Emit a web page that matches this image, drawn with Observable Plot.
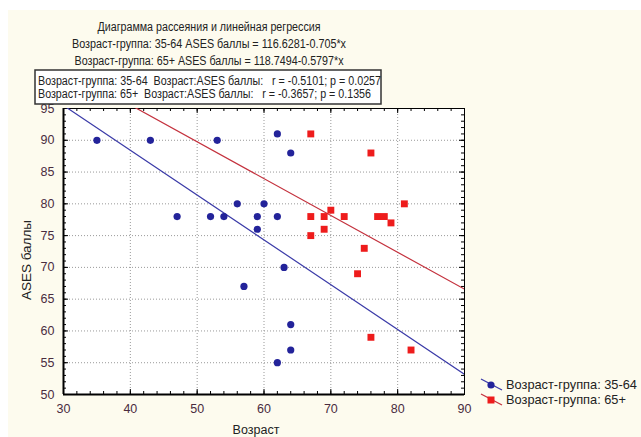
<!DOCTYPE html>
<html><head><meta charset="utf-8">
<script src="https://cdn.jsdelivr.net/npm/d3@7"></script>
<script src="https://cdn.jsdelivr.net/npm/@observablehq/plot@0.6"></script>
<style>
body{margin:0;background:#fff;}
#chart svg text{font-family:"Liberation Sans",Arial,sans-serif;}
</style>
</head><body><div id="chart"></div>
<script>
// ---- data ----
const ageYoung  = [35,43,53,47,52,54,56,62,64,60,59,62,59,57,63,64,64,62];
const asesYoung = [90,90,90,78,78,78,80,91,88,80,78,78,76,67,70,61,57,55];
const ageOld    = [67,76,81,67,69,70,72,77,78,79,69,67,75,74,76,82];
const asesOld   = [91,88,80,78,78,79,78,78,78,77,76,75,73,69,59,57];
const coefYoung = [116.6281, -0.705];
const coefOld   = [118.7494, -0.5797];
const xTicks = [30,40,50,60,70,80,90];
const yTicks = [50,55,60,65,70,75,80,85,90,95];
const titleLines = [
  "Диаграмма рассеяния и линейная регрессия",
  "Возраст-группа: 35-64 ASES баллы = 116.6281-0.705*x",
  "Возраст-группа: 65+ ASES баллы = 118.7494-0.5797*x"
];
const statLines = [
  "Возраст-группа: 35-64  Возраст:ASES баллы:   r = -0.5101; p = 0.0257",
  "Возраст-группа: 65+  Возраст:ASES баллы:   r = -0.3657; p = 0.1356"
];
const legendLabels = ["Возраст-группа: 35-64", "Возраст-группа: 65+"];
const xLabel = "Возраст";
const yLabel = "ASES баллы";

const blue = "#23239a", red = "#ee1c1c", blueLine = "#3b3ba8", redLine = "#c4323e";

const young = ageYoung.map((x,i)=>({x, y: asesYoung[i]}));
const old = ageOld.map((x,i)=>({x, y: asesOld[i]}));
const xd = [30,90];
const lineYoung = xd.map(x=>({x, y: coefYoung[0] + coefYoung[1]*x}));
const lineOld = xd.map(x=>({x, y: coefOld[0] + coefOld[1]*x}));
const xMinor = d3.range(30, 91, 2);
const yMinor = d3.range(50, 96, 1);

const W = 641, H = 437, mL = 63, mR = 177, mT = 108, mB = 43;
const pw = W - mL - mR, ph = H - mT - mB;

const chart = Plot.plot({
  width: W, height: H,
  marginLeft: mL, marginRight: mR, marginTop: mT, marginBottom: mB,
  style: {background: "transparent", overflow: "visible"},
  x: {domain: [30,90]},
  y: {domain: [50,95]},
  marks: [
    Plot.frame({fill: "white", stroke: "none"}),
    Plot.gridX(xTicks.slice(1,-1), {stroke: "#999", strokeOpacity: 1, strokeDasharray: "1,2"}),
    Plot.gridY(yTicks.slice(1,-1), {stroke: "#999", strokeOpacity: 1, strokeDasharray: "1,2"}),
    // minor ticks
    Plot.ruleX(xMinor, {stroke: "#000", insetTop: ph - 3}),
    Plot.ruleX(xMinor, {stroke: "#000", insetBottom: ph - 3}),
    Plot.ruleY(yMinor, {stroke: "#000", insetRight: pw - 3}),
    Plot.ruleY(yMinor, {stroke: "#000", insetLeft: pw - 3}),
    // major ticks
    Plot.ruleX(xTicks, {stroke: "#000", insetTop: ph - 5}),
    Plot.ruleX(xTicks, {stroke: "#000", insetBottom: ph - 5}),
    Plot.ruleY(yTicks, {stroke: "#000", insetRight: pw - 5}),
    Plot.ruleY(yTicks, {stroke: "#000", insetLeft: pw - 5}),
    Plot.frame({stroke: "#000"}),
    Plot.ruleX([30], {stroke: "#000", strokeWidth: 2}),
    Plot.ruleY([50], {stroke: "#000", strokeWidth: 2}),
    Plot.line(lineYoung, {x: "x", y: "y", stroke: blueLine, strokeWidth: 1.2, clip: true}),
    Plot.line(lineOld, {x: "x", y: "y", stroke: redLine, strokeWidth: 1.2, clip: true}),
    Plot.dot(young, {x: "x", y: "y", r: 3.6, fill: blue, stroke: "none"}),
    Plot.dot(old, {x: "x", y: "y", r: 3.9, symbol: "square", fill: red, stroke: "none"}),
    Plot.axisX({ticks: xTicks, tickSize: 0, tickPadding: 10, fontSize: 12.5, fill: "#4a2c3f", label: null}),
    Plot.axisY({ticks: yTicks, tickSize: 0, tickPadding: 9, fontSize: 12.5, fill: "#4a2c3f", label: null})
  ]
});

const svg = d3.select(chart);
svg.insert("rect", ":first-child")
  .attr("x", 8).attr("y", 10).attr("width", W - 8).attr("height", H - 10)
  .attr("fill", "#fdfbee");

const txt = "#222";
// title
const tY = [31, 48, 65];
const tW = [223, 274, 269];
titleLines.forEach((t,i)=>{
  svg.append("text").attr("x", 209).attr("y", tY[i]).attr("text-anchor","middle")
    .attr("font-size", 12.3).attr("fill", txt)
    .attr("textLength", tW[i]).attr("lengthAdjust", "spacingAndGlyphs").text(t);
});
// stats box
svg.append("rect").attr("x", 35).attr("y", 70).attr("width", 346).attr("height", 34)
  .attr("fill", "white").attr("stroke", "#333").attr("stroke-width", 1.5);
const sY = [85, 98];
const sW = [343, 333];
statLines.forEach((t,i)=>{
  svg.append("text").attr("x", 38).attr("y", sY[i]).attr("font-size", 12)
    .attr("text-anchor","start")
    .attr("textLength", sW[i]).attr("lengthAdjust", "spacingAndGlyphs")
    .attr("fill", txt).attr("xml:space","preserve").style("white-space","pre").text(t);
});
// axis labels
svg.append("text").attr("x", 256).attr("y", 434).attr("text-anchor","middle")
  .attr("font-size", 12.5).attr("fill", txt).text(xLabel);
svg.append("text").attr("transform", "translate(31,260) rotate(-90)").attr("text-anchor","middle")
  .attr("font-size", 13.5).attr("fill", txt).text(yLabel);
// legend
const lg = [{c: blueLine, f: blue, sym: "circle", y: 385}, {c: redLine, f: red, sym: "square", y: 400}];
lg.forEach((l,i)=>{
  svg.append("line").attr("x1", 481).attr("y1", l.y - 6).attr("x2", 502).attr("y2", l.y + 5)
    .attr("stroke", l.c).attr("stroke-width", 1.3);
  if (l.sym === "circle") {
    svg.append("circle").attr("cx", 491).attr("cy", l.y).attr("r", 3.6).attr("fill", l.f);
  } else {
    svg.append("rect").attr("x", 487.5).attr("y", l.y - 3.5).attr("width", 7).attr("height", 7).attr("fill", l.f);
  }
  svg.append("text").attr("x", 506).attr("y", l.y + 4).attr("font-size", 12.8)
    .attr("text-anchor","start")
    .attr("fill", txt).text(legendLabels[i]);
});

document.getElementById("chart").appendChild(chart);
</script>
</body></html>
